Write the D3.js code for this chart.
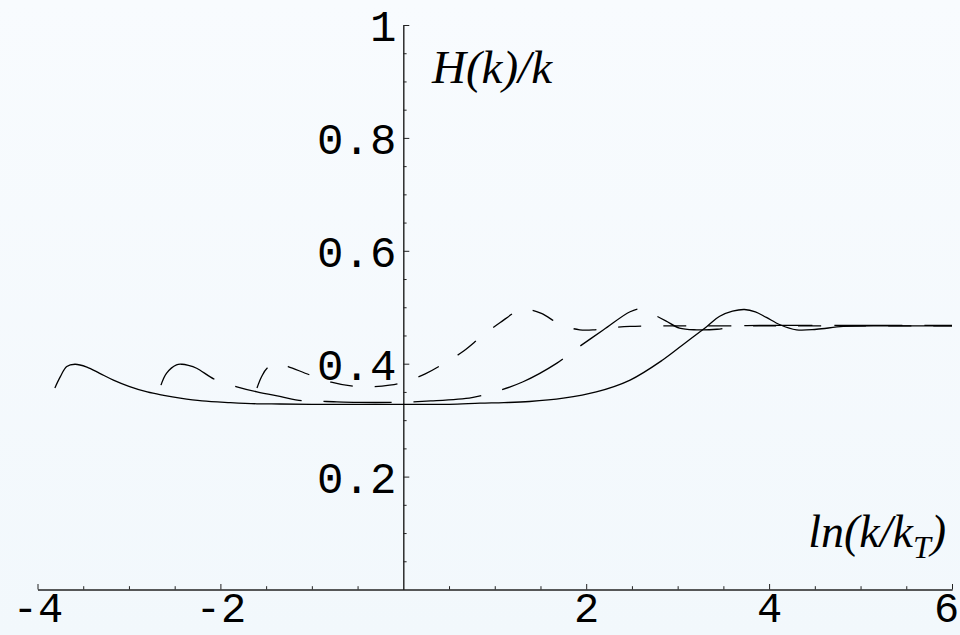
<!DOCTYPE html>
<html>
<head>
<meta charset="utf-8">
<script src="https://cdn.jsdelivr.net/npm/d3@7"></script>
<style>
  html, body { margin: 0; padding: 0; background: #f5fafd; }
  svg { display: block; }
</style>
</head>
<body>
<svg id="chart" width="960" height="635"></svg>
<script>
// ---- data ----
const xMajorTicks = [-4, -2, 2, 4, 6];
const xTickLabels = ["-4", "-2", "2", "4", "6"];
const xMinorTicks = [-3.5, -3, -2.5, -1.5, -1, -0.5, 0.5, 1, 1.5, 2.5, 3, 3.5, 4.5, 5, 5.5];
const yMajorTicks = [0.2, 0.4, 0.6, 0.8, 1];
const yTickLabels = ["0.2", "0.4", "0.6", "0.8", "1"];
const yMinorTicks = [0.05, 0.1, 0.15, 0.25, 0.3, 0.35, 0.45, 0.5, 0.55, 0.65, 0.7, 0.75, 0.85, 0.9, 0.95];

// solid curve
const solidX = [-3.81, -3.75, -3.68, -3.59, -3.46, -3.32, -3.17, -3.0, -2.80, -2.62, -2.44, -2.2, -1.89, -1.6, -1.35, -1.0, -0.5, 0, 0.5, 0.84, 1.1, 1.38, 1.75, 2.11, 2.48, 2.84, 3.10, 3.32, 3.46, 3.6, 3.73, 3.85, 3.97, 4.12, 4.30, 4.52, 4.81, 5.25, 5.6, 6.0];
const solidY = [0.357, 0.377, 0.395, 0.399, 0.394, 0.383, 0.371, 0.360, 0.350, 0.344, 0.339, 0.334, 0.331, 0.329, 0.3286, 0.328, 0.328, 0.328, 0.328, 0.330, 0.331, 0.333, 0.339, 0.350, 0.371, 0.407, 0.439, 0.466, 0.484, 0.493, 0.496, 0.492, 0.482, 0.469, 0.460, 0.461, 0.466, 0.467, 0.467, 0.467];

// long-dashed curve
const longDashX = [-2.65, -2.59, -2.48, -2.42, -2.35, -2.26, -2.06, -1.82, -1.6, -1.35, -1.09, -0.84, -0.5, -0.09, 0.3, 0.75, 0.98, 1.31, 1.68, 1.87, 2.19, 2.48, 2.6, 2.71, 2.87, 3.02, 3.21, 3.43, 3.68, 4.0, 4.5, 5.0, 5.5, 6.0];
const longDashY = [0.362, 0.383, 0.398, 0.399, 0.397, 0.392, 0.372, 0.359, 0.350, 0.342, 0.334, 0.333, 0.3315, 0.3316, 0.334, 0.340, 0.349, 0.368, 0.401, 0.424, 0.460, 0.492, 0.497, 0.489, 0.476, 0.463, 0.460, 0.461, 0.467, 0.468, 0.468, 0.468, 0.468, 0.468];

// short-dashed curve
const shortDashX = [-1.60, -1.55, -1.49, -1.38, -1.26, -1.02, -0.80, -0.54, -0.35, -0.15, 0.0, 0.24, 0.45, 0.66, 0.86, 1.06, 1.27, 1.37, 1.51, 1.73, 1.93, 2.08, 2.22, 2.48, 3.0, 3.5, 4.0, 5.0, 6.0];
const shortDashY = [0.357, 0.377, 0.392, 0.401, 0.395, 0.380, 0.368, 0.360, 0.359, 0.362, 0.367, 0.382, 0.401, 0.4225, 0.449, 0.473, 0.495, 0.496, 0.489, 0.4685, 0.460, 0.460, 0.463, 0.466, 0.467, 0.467, 0.467, 0.467, 0.467];

const seriesList = [
  { name: "solid", xs: solidX, ys: solidY, dash: null },
  { name: "long", xs: longDashX, ys: longDashY, dash: "68,22" },
  { name: "short", xs: shortDashX, ys: shortDashY, dash: "23,22" }
];

// ---- drawing ----
const svg = d3.select("#chart");
const W = 960, H = 635;

const defs = svg.append("defs");
const grad = defs.append("linearGradient").attr("id", "bg").attr("x1", 0).attr("y1", 0).attr("x2", 0).attr("y2", 1);
grad.append("stop").attr("offset", "0%").attr("stop-color", "#f8fbfe");
grad.append("stop").attr("offset", "100%").attr("stop-color", "#f2f8fc");
svg.append("rect").attr("width", W).attr("height", H).attr("fill", "url(#bg)");

const x = d3.scaleLinear().domain([-4, 6]).range([37.5, 952]);
const y = d3.scaleLinear().domain([0, 1]).range([589.5, 25]);

const axisColor = "#222";
const monoFont = "'Liberation Mono', 'Courier New', monospace";

// x axis (minor ticks)
svg.append("g")
  .attr("transform", `translate(0,${y(0)})`)
  .call(d3.axisBottom(x).tickValues(xMinorTicks).tickSize(-3.3).tickSizeOuter(0).tickFormat(""))
  .call(g => g.select(".domain").attr("stroke", axisColor))
  .call(g => g.selectAll(".tick line").attr("stroke", axisColor));

// x axis (major ticks + labels)
svg.append("g")
  .attr("transform", `translate(0,${y(0)})`)
  .call(d3.axisBottom(x).tickValues(xMajorTicks).tickSize(-5.5).tickSizeOuter(0)
        .tickFormat((d, i) => xTickLabels[i]))
  .call(g => g.select(".domain").attr("stroke", axisColor))
  .call(g => g.selectAll(".tick line").attr("stroke", axisColor))
  .call(g => g.selectAll(".tick text")
      .attr("y", 32.5).attr("dy", null)
      .attr("x", d => d === 6 ? -6 : 0)
      .attr("fill", "#000")
      .style("font-family", monoFont)
      .style("font-size", "42px"));

// y axis (minor ticks)
svg.append("g")
  .attr("transform", `translate(${x(0)},0)`)
  .call(d3.axisLeft(y).tickValues(yMinorTicks).tickSize(-3.3).tickSizeOuter(0).tickFormat(""))
  .call(g => g.select(".domain").attr("stroke", axisColor))
  .call(g => g.selectAll(".tick line").attr("stroke", axisColor));

// y axis (major ticks + labels)
svg.append("g")
  .attr("transform", `translate(${x(0)},0)`)
  .call(d3.axisLeft(y).tickValues(yMajorTicks).tickSize(-6).tickSizeOuter(0).tickPadding(7)
        .tickFormat((d, i) => yTickLabels[i]))
  .call(g => g.select(".domain").attr("stroke", axisColor))
  .call(g => g.selectAll(".tick line").attr("stroke", axisColor))
  .call(g => g.selectAll(".tick text")
      .attr("dy", "0.36em")
      .attr("fill", "#000")
      .style("font-family", monoFont)
      .style("font-size", "44px"));

// curves
const line = d3.line()
  .x(d => x(d[0]))
  .y(d => y(d[1]))
  .curve(d3.curveCatmullRom.alpha(0.5));

seriesList.forEach(s => {
  const pts = s.xs.map((v, i) => [v, s.ys[i]]);
  svg.append("path")
    .datum(pts)
    .attr("d", line)
    .attr("fill", "none")
    .attr("stroke", "#000")
    .attr("stroke-width", 1.3)
    .attr("stroke-dasharray", s.dash);
});

// axis titles
const serif = "'Liberation Serif', 'Times New Roman', serif";
svg.append("text")
  .attr("x", 432).attr("y", 83)
  .style("font-family", serif).style("font-style", "italic").style("font-size", "47px")
  .attr("fill", "#000")
  .text("H(k)/k");

const xt = svg.append("text")
  .attr("x", 946).attr("y", 547)
  .attr("text-anchor", "end")
  .style("font-family", serif).style("font-style", "italic").style("font-size", "46px")
  .attr("fill", "#000");
xt.append("tspan").text("ln(k/k");
xt.append("tspan").attr("dy", 11).style("font-size", "32px").text("T");
xt.append("tspan").attr("dy", -11).text(")");
</script>
</body>
</html>
